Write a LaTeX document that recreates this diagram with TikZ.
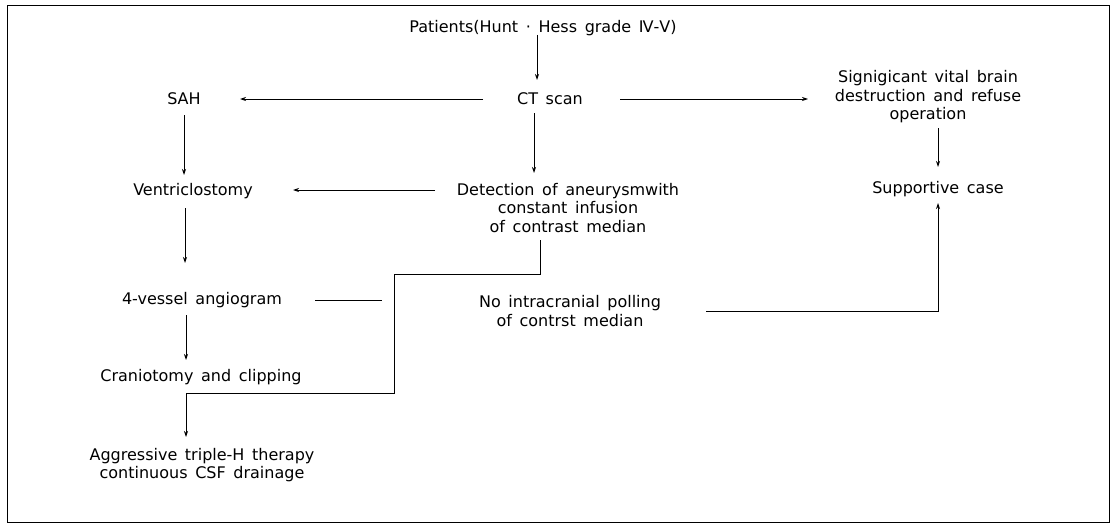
\documentclass[tikz,border=0pt]{standalone}
\usepackage{fontspec}
\setmainfont{DejaVu Sans}[WordSpace=1.5]
\usetikzlibrary{arrows.meta,calc}
\begin{document}
\begin{tikzpicture}[x=1pt,y=-1pt,
  lbl/.style={font=\fontsize{16}{18.5}\selectfont, align=center, inner sep=0pt},
  arr/.style={-{Stealth[length=6pt,width=4pt]}, line width=0.8pt},
  ln/.style={line width=0.8pt}]
\useasboundingbox (0,0) rectangle (1113,527);
\draw[line width=1pt] (7,6) rectangle (1109,522);

\node[lbl] (pat) at (543,28) {Patients(Hunt · Hess grade Ⅳ-Ⅴ)};
\node[lbl] (ct)  at (550,99) {CT scan};
\node[lbl] (sah) at (184,99) {SAH};
\node[lbl] (sig) at (928,97) {Signigicant vital brain\\destruction and refuse\\operation};
\node[lbl] (sup) at (938,189) {Supportive case};
\node[lbl] (det) at (568,208) {Detection of aneurysmwith\\constant infusion\\of contrast median};
\node[lbl] (ven) at (193,191) {Ventriclostomy};
\node[lbl] (ves) at (202,300) {4-vessel angiogram};
\node[lbl] (nic) at (570,311) {No intracranial polling\\of contrst median};
\node[lbl] (cra) at (201,377) {Craniotomy and clipping};
\node[lbl] (agg) at (202,465) {Aggressive triple-H therapy\\continuous CSF drainage};

\coordinate (vesend) at (382,300);
\coordinate (k1) at (394,274);
\coordinate (k2) at (186,393);

\draw[arr] ($(pat)+(-6,7)$) -- ($(ct)+(-13,-19)$);
\draw[arr] ($(ct)+(-67,0)$) -- ($(sah)+(56,0)$);
\draw[arr] ($(ct)+(70,0)$) -- ($(sig)+(-120,2)$);
\draw[arr] ($(ct)+(-16,14)$) -- ($(det)+(-34,-35)$);
\draw[arr] ($(sig)+(10,31)$) -- ($(sup)+(0,-22)$);
\draw[arr] ($(sah)+(0,16)$) -- ($(ven)+(-9,-16)$);
\draw[arr] ($(det)+(-133,-18)$) -- ($(ven)+(100,-1)$);
\draw[arr] ($(ven)+(-8,17)$) -- ($(ves)+(-17,-37)$);
\draw[ln] ($(ves)+(113,0)$) -- (vesend);
\draw[arr] ($(ves)+(-16,15)$) -- ($(cra)+(-15,-17)$);
\draw[arr] ($(det)+(-28,32)$) |- (k1) |- (k2) -- ($(agg)+(-16,-28)$);
\draw[arr] ($(nic)+(136,0)$) -| ($(sup)+(0,14)$);
\end{tikzpicture}
\end{document}
